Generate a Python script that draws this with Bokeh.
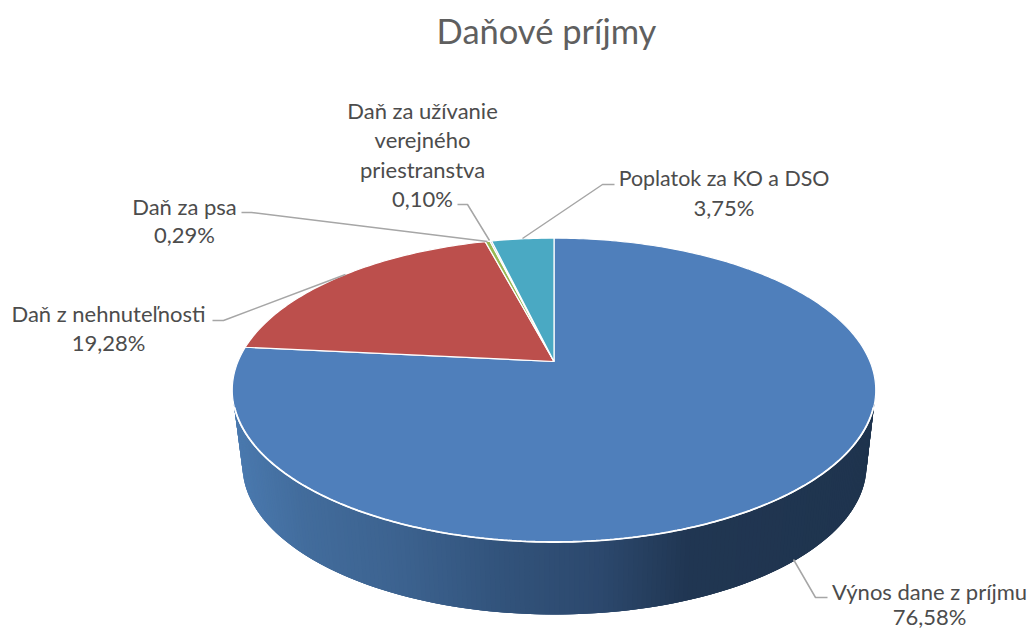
import math
from bokeh.plotting import figure
from bokeh.embed import file_html
from bokeh.resources import INLINE
from bokeh.core.properties import value

# ---- data ----
categories = ["Výnos dane z príjmu", "Daň z nehnuteľnosti", "Daň za psa",
              "Daň za užívanie verejného priestranstva", "Poplatok za KO a DSO"]
shares = [76.58, 19.28, 0.29, 0.10, 3.75]
share_labels = ["76,58%", "19,28%", "0,29%", "0,10%", "3,75%"]
slice_colors = ["#4f7fbb", "#bc4f4c", "#98b954", "#7d60a0", "#4aa9c3"]
title_text = "Daňové príjmy"

W, H = 1030, 630
p = figure(width=W, height=H, x_range=(0, W), y_range=(H, 0), output_backend="svg",
           toolbar_location=None, min_border=0, outline_line_color=None,
           background_fill_color="white", border_fill_color="white")
p.xaxis.visible = False
p.yaxis.visible = False
p.grid.visible = False

CX, CY, RX, RY = 553.5, 389.5, 321.5, 152.0
BX, BY, BRX, BRY = 554.0, 465.0, 312.0, 149.0
APEX_Y, KP, BP, AP = 361.0, 0.188, 146.6, 316.0

def lerp_color(c0, c1, t):
    return "#%02x%02x%02x" % tuple(round(a + (b - a) * t) for a, b in zip(c0, c1))

# side wall as overlapping narrow strips (gradient), painted left to right
stops = [(234, (0x4a, 0x79, 0xae)), (300, (0x42, 0x6c, 0x9c)), (400, (0x3c, 0x62, 0x8f)),
         (500, (0x32, 0x53, 0x7b)), (600, (0x2c, 0x48, 0x6d)), (690, (0x20, 0x36, 0x52)),
         (880, (0x1f, 0x34, 0x4e))]
def side_color(x):
    for (x0, c0), (x1, c1) in zip(stops, stops[1:]):
        if x <= x1:
            return lerp_color(c0, c1, max(0, (x - x0) / (x1 - x0)))
    return lerp_color(stops[-1][1], stops[-1][1], 0)

N = 200
xs, ys, cols = [], [], []
for i in range(N):
    a0, a1 = math.pi * (1 - i / N), math.pi * (1 - min(i + 3, N) / N)
    amid = math.pi * (1 - (i + 0.5) / N)
    pts = [(CX + RX * math.cos(a0), CY + RY * math.sin(a0)),
           (CX + RX * math.cos(a1), CY + RY * math.sin(a1)),
           (BX + BRX * math.cos(a1), BY + BRY * math.sin(a1)),
           (BX + BRX * math.cos(a0), BY + BRY * math.sin(a0))]
    xs.append([q[0] for q in pts])
    ys.append([q[1] for q in pts])
    cols.append(side_color(CX + RX * math.cos(amid)))
p.patches(xs, ys, fill_color=cols, line_color=None)

# top face: perspective projection of a circle
def project(theta):
    X, Y = math.sin(theta), math.cos(theta)
    d = 1 + KP * Y
    return CX + AP * X / d, APEX_Y - BP * Y / d

total = sum(shares)
start = 0.0
top_xs, top_ys = [], []
for s in shares:
    end = start + s
    steps = max(2, int(s * 4))
    arc = [project(2 * math.pi * (start + (end - start) * k / steps) / total) for k in range(steps + 1)]
    top_xs.append([CX] + [q[0] for q in arc])
    top_ys.append([APEX_Y] + [q[1] for q in arc])
    start = end
p.patches(top_xs, top_ys, fill_color=slice_colors, line_color="white", line_width=1.2)

# white rim along the front edge
rim = [0.115 + (math.pi - 0.23) * k / 200 for k in range(201)]
p.line([CX + RX * math.cos(a) for a in rim], [CY + RY * math.sin(a) for a in rim],
       line_color="white", line_width=1.8)

# leader lines
leaders = [
    ([793, 815, 827], [559, 597, 597]),
    ([212, 223, 345], [320, 320, 274]),
    ([241, 251, 487], [212, 212, 241]),
    ([457, 467, 489], [204, 204, 240]),
    ([614, 602, 522], [184, 184, 238]),
]
p.multi_line([l[0] for l in leaders], [l[1] for l in leaders], line_color="#a6a6a6", line_width=1.5)

# labels
labels = [
    (929, 591, categories[0], "22px"), (929, 616, share_labels[0], "22px"),
    (108, 313, categories[1], "22px"), (108, 342, share_labels[1], "22px"),
    (184, 206, categories[2], "22px"), (184, 234, share_labels[2], "22px"),
    (422, 110, "Daň za užívanie", "22px"), (422, 139, "verejného", "22px"),
    (422, 169, "priestranstva", "22px"), (422, 198, share_labels[3], "22px"),
    (723.5, 177, categories[4], "21.4px"), (723.5, 207, share_labels[4], "22px"),
]
p.text(x=[l[0] for l in labels], y=[l[1] for l in labels], text=[l[2] for l in labels],
       text_font=value("Lato"), text_font_size=[l[3] for l in labels], text_color="#4c4c4c",
       text_align="center", text_baseline="middle")
p.text([546], [29.5], text=[title_text], text_font=value("Lato"), text_font_size="34.5px",
       text_color="#5f5f5f", text_align="center", text_baseline="middle")

open("out.html", "w").write(file_html(p, INLINE))
